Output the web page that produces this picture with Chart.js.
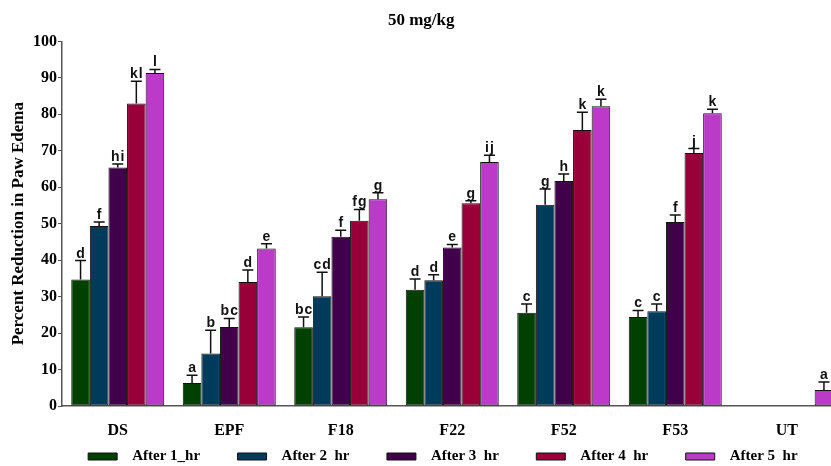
<!DOCTYPE html>
<html>
<head>
<meta charset="utf-8">
<script src="https://cdn.jsdelivr.net/npm/chart.js@4/dist/chart.umd.min.js"></script>
<style>
  html, body { margin: 0; padding: 0; background: #ffffff; overflow: hidden; }
  #wrap { width: 900px; height: 466px; }
</style>
</head>
<body>
<div id="wrap"><canvas id="c" width="900" height="466"></canvas></div>
<script>
const categories = ['DS', 'EPF', 'F18', 'F22', 'F52', 'F53', 'UT'];
const seriesNames = ['After 1_hr', 'After 2  hr', 'After 3  hr', 'After 4  hr', 'After 5  hr'];

const after1 = [34.7, 6.3, 21.6, 31.9, 25.6, 24.4, null];
const after2 = [49.4, 14.4, 30.1, 34.5, 55.2, 26.0, null];
const after3 = [65.4, 21.7, 46.4, 43.5, 61.7, 50.5, null];
const after4 = [83.0, 34.0, 50.8, 55.6, 75.7, 69.4, null];
const after5 = [91.3, 43.2, 56.7, 66.9, 82.2, 80.3, 4.4];

const err1 = [5.2, 2.1, 2.8, 2.9, 2.4, 1.8, null];
const err2 = [1.1, 6.4, 6.6, 1.5, 4.3, 2.0, null];
const err3 = [1.0, 2.3, 1.8, 0.8, 1.9, 1.9, null];
const err4 = [6.1, 3.3, 3.1, 0.7, 4.9, 1.2, null];
const err5 = [1.0, 1.3, 1.8, 1.9, 1.9, 1.1, 2.2];

const let1 = ['d', 'a', 'bc', 'd', 'c', 'c', ''];
const let2 = ['f', 'b', 'cd', 'd', 'g', 'c', ''];
const let3 = ['hi', 'bc', 'f', 'e', 'h', 'f', ''];
const let4 = ['kl', 'd', 'fg', 'g', 'k', 'j', ''];
const let5 = ['l', 'e', 'g', 'ij', 'k', 'k', 'a'];

const yTicks = [0, 10, 20, 30, 40, 50, 60, 70, 80, 90, 100];

const colors = ['#004000', '#003b5c', '#41004a', '#99003a', '#bb3ac7'];
const values = [after1, after2, after3, after4, after5];
const errors = [err1, err2, err3, err4, err5];
const letters = [let1, let2, let3, let4, let5];

const serif = '"Liberation Serif", "Times New Roman", serif';

const errLetters = {
  id: 'errLetters',
  afterDatasetsDraw(chart) {
    const ctx = chart.ctx;
    const ys = chart.scales.y;
    chart.data.datasets.forEach((ds, i) => {
      const meta = chart.getDatasetMeta(i);
      meta.data.forEach((bar, j) => {
        const v = ds.data[j];
        if (v == null) return;
        const e = errors[i][j] || 0;
        const top = ys.getPixelForValue(v + e);
        const x = bar.x;
        ctx.save();
        ctx.strokeStyle = '#111';
        ctx.lineWidth = 1.5;
        ctx.beginPath();
        ctx.moveTo(x, bar.y);
        ctx.lineTo(x, top);
        ctx.moveTo(x - 5.5, top);
        ctx.lineTo(x + 5.5, top);
        ctx.stroke();
        ctx.font = 'bold 14px "Liberation Sans", Arial, sans-serif';
        ctx.letterSpacing = '1px';
        ctx.textAlign = 'center';
        ctx.textBaseline = 'alphabetic';
        ctx.fillStyle = '#111';
        ctx.fillText(letters[i][j], x + 0.5, top - 3);
        ctx.restore();
      });
    });
  }
};

const lastIdx = seriesNames.length - 1;
new Chart(document.getElementById('c'), {
  type: 'bar',
  data: {
    labels: categories,
    datasets: values.map((v, i) => ({
      label: seriesNames[i],
      data: v,
      backgroundColor: colors[i],
      borderColor: '#111',
      borderWidth: 1,
      borderSkipped: false,
      categoryPercentage: 0.834,
      barPercentage: 1.0
    }))
  },
  options: {
    responsive: false,
    animation: false,
    devicePixelRatio: 1,
    layout: { padding: { left: 0, right: 57.5, top: 0, bottom: -8 } },
    plugins: {
      title: {
        display: true,
        text: '50 mg/kg',
        color: '#000',
        font: { family: serif, size: 17, weight: 'bold' },
        padding: { top: 10, bottom: 11 }
      },
      legend: {
        position: 'bottom',
        fullSize: false,
        align: 'center',
        labels: {
          color: '#000',
          font: { family: serif, size: 15, weight: 'bold' },
          boxWidth: 29,
          boxHeight: 7,
          padding: 0,
          generateLabels(chart) {
            const items = Chart.defaults.plugins.legend.labels.generateLabels(chart);
            items.forEach((it, k) => {
              it.text = '  ' + it.text + (k < lastIdx ? '          ' : '     ');
              it.lineWidth = 1;
              it.strokeStyle = '#111';
            });
            return items;
          }
        }
      },
      tooltip: { enabled: false }
    },
    scales: {
      x: {
        afterFit(scale) { scale.height = 43; },
        grid: { display: false, drawTicks: false },
        border: { display: true, color: '#555', width: 1.5 },
        ticks: {
          color: '#000',
          padding: 15,
          font: { family: serif, size: 16, weight: 'bold' }
        }
      },
      y: {
        min: 0,
        max: 100,
        afterBuildTicks(scale) { scale.ticks = yTicks.map(v => ({ value: v })); },
        afterFit(scale) { scale.width = 62; },
        grid: { display: true, drawOnChartArea: false, drawTicks: true, tickLength: 4, color: '#555' },
        border: { display: true, color: '#555', width: 1.5 },
        ticks: {
          color: '#000',
          padding: 1,
          font: { family: serif, size: 16, weight: 'bold' }
        },
        title: {
          display: true,
          text: 'Percent Reduction in Paw Edema',
          color: '#000',
          font: { family: serif, size: 17, weight: 'bold' },
          padding: { top: 8, bottom: 0 }
        }
      }
    }
  },
  plugins: [errLetters]
});
</script>
</body>
</html>
